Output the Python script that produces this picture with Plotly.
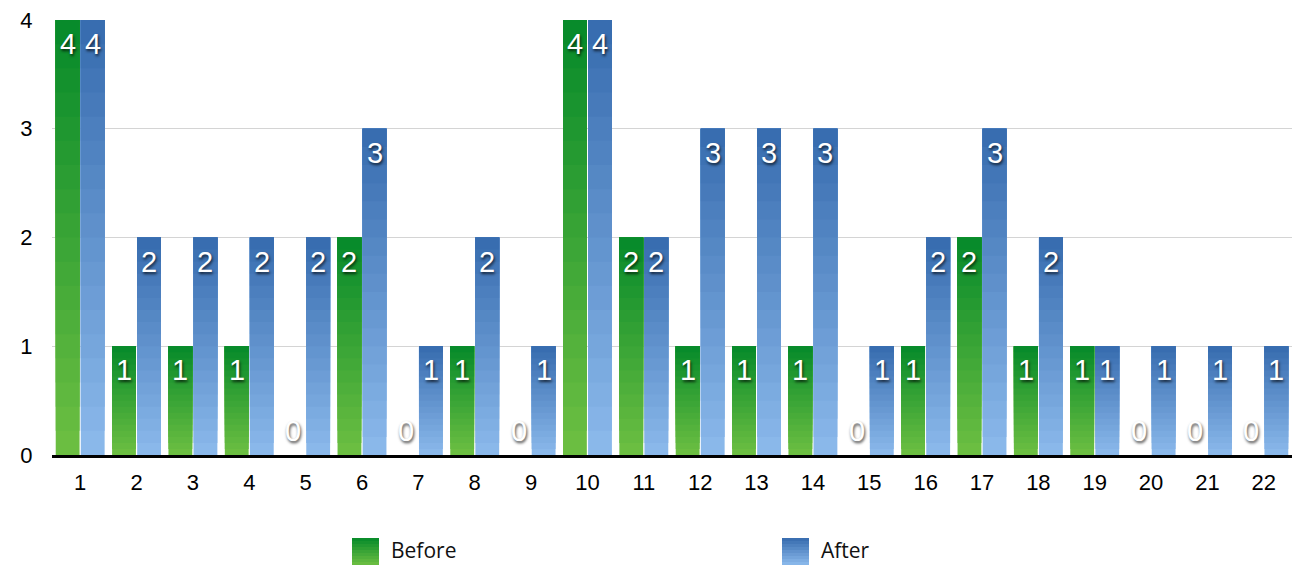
import plotly.graph_objects as go

categories = [str(i) for i in range(1, 23)]
before = [4, 1, 1, 1, 0, 2, 0, 1, 0, 4, 2, 1, 1, 1, 0, 1, 2, 1, 1, 0, 0, 0]
after = [4, 2, 2, 2, 2, 3, 1, 2, 1, 4, 2, 3, 3, 3, 1, 2, 3, 2, 1, 1, 1, 1]
series_names = ["Before", "After"]
y_ticks = [0, 1, 2, 3, 4]

# gradient colours (bottom -> top)
green_bottom, green_top = (0x6E, 0xBF, 0x42), (0x05, 0x8A, 0x2A)
blue_bottom, blue_top = (0x8C, 0xBA, 0xEC), (0x36, 0x6B, 0xAE)

N = 18
BARGAP = 0.11
plot_left, plot_w = 52, 1240
plot_bottom, plot_h = 455, 435
cat_w = plot_w / len(categories)
half_off = cat_w * (1 - BARGAP) / 4


def mix(a, b, t):
    return "rgb(%d,%d,%d)" % tuple(round(a[i] + (b[i] - a[i]) * t) for i in range(3))


fig = go.Figure()
annotations = []
label_font = dict(family="Liberation Sans", size=29, color="white",
                  shadow="1px 2px 3px rgba(0,0,0,0.75)")

for si, (name, vals, cb, ct) in enumerate([("Before", before, green_bottom, green_top),
                                           ("After", after, blue_bottom, blue_top)]):
    for k in range(N):
        fig.add_trace(go.Bar(
            x=categories,
            y=[v * (N - k) / N for v in vals],
            base=[v * k / N for v in vals],
            offsetgroup=name,
            marker=dict(color=mix(cb, ct, (k + 0.5) / N), line=dict(width=0)),
            showlegend=False,
            hoverinfo="skip",
        ))
    # invisible full bar for hover
    fig.add_trace(go.Bar(
        x=categories, y=vals, offsetgroup=name, name=name,
        marker=dict(color="rgba(0,0,0,0)", line=dict(width=0)),
        showlegend=False,
        hovertemplate="%{x}: %{y}<extra>" + name + "</extra>",
    ))
    shift = -half_off if si == 0 else half_off
    # category axis: annotation x given as category index
    for ci, v in enumerate(vals):
        annotations.append(dict(
            x=ci, y=v, xref="x", yref="y", text=str(v), showarrow=False,
            xshift=shift, yshift=(6 if v == 0 else -6),
            yanchor=("bottom" if v == 0 else "top"), xanchor="center",
            font=label_font,
        ))

shapes = []
for name, px, cb, ct in [("Before", 352, green_bottom, green_top),
                         ("After", 782, blue_bottom, blue_top)]:
    xa = (px - plot_left) / plot_w
    ya = (plot_bottom - 565) / plot_h
    steps = 9
    for k in range(steps):
        shapes.append(dict(
            type="rect", xref="paper", yref="paper",
            xsizemode="pixel", ysizemode="pixel",
            xanchor=xa, yanchor=ya,
            x0=0, x1=27, y0=k * 3, y1=(k + 1) * 3,
            fillcolor=mix(cb, ct, (k + 0.5) / steps),
            line=dict(width=0), layer="above",
        ))
    annotations.append(dict(
        text=name, xref="paper", yref="paper",
        x=(px + 38 - plot_left) / plot_w, y=(plot_bottom - 550) / plot_h,
        xanchor="left", yanchor="middle", showarrow=False, borderpad=0,
        font=dict(family="Open Sans", size=21, color="#111"),
    ))

fig.update_layout(
    width=1300, height=566,
    margin=dict(l=plot_left, r=1300 - plot_left - plot_w, t=plot_bottom - plot_h,
                b=566 - plot_bottom, autoexpand=False),
    barmode="group",
    bargap=BARGAP,
    bargroupgap=0.05,
    plot_bgcolor="white",
    paper_bgcolor="white",
    showlegend=False,
    shapes=shapes,
    annotations=annotations,
    font=dict(family="Liberation Sans", color="black"),
)
fig.update_yaxes(
    range=[0, 4], tickvals=y_ticks, ticktext=[str(t) for t in y_ticks],
    showgrid=True, gridcolor="#d4d4d4", gridwidth=1,
    zeroline=False, showline=False,
    ticks="outside", ticklen=14, tickcolor="rgba(0,0,0,0)",
    tickfont=dict(family="Liberation Sans", size=22, color="black"),
    fixedrange=True, automargin=False,
)
fig.update_xaxes(
    type="category", categoryorder="array", categoryarray=categories,
    range=[-0.5, len(categories) - 0.5],
    showgrid=False,
    showline=True, linecolor="black", linewidth=3,
    ticks="outside", ticklen=6, tickcolor="rgba(0,0,0,0)",
    tickfont=dict(family="Liberation Sans", size=22, color="black"),
    fixedrange=True, automargin=False,
)

fig.write_html("out.html", config={"displayModeBar": False},
               post_script="document.body.style.margin='0';document.body.style.overflow='hidden';")
